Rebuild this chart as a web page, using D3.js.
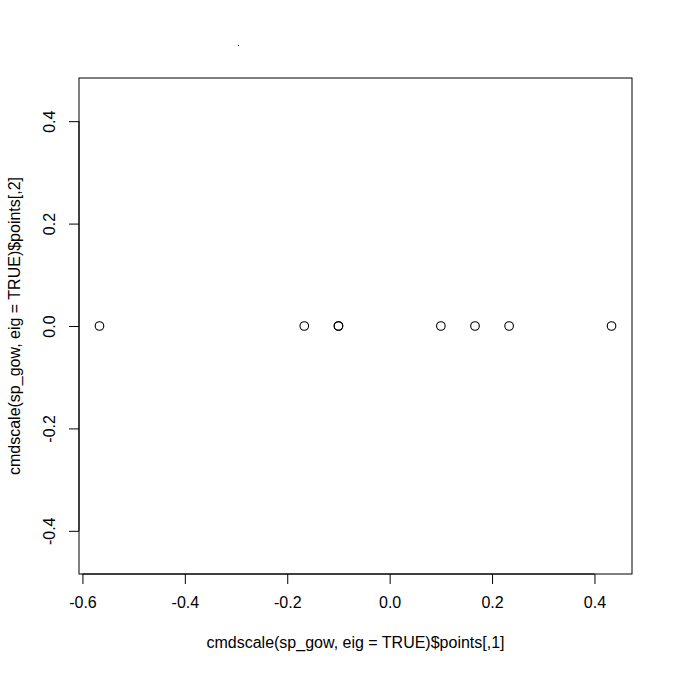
<!DOCTYPE html>
<html>
<head>
<meta charset="utf-8">
<script src="https://cdn.jsdelivr.net/npm/d3@7"></script>
<style>
  body { margin: 0; background: #fff; }
  text { font-family: "Liberation Sans", Arial, sans-serif; fill: #000; }
</style>
</head>
<body>
<svg id="chart" width="673" height="673"></svg>
<script>
// cmdscale(sp_gow, eig = TRUE)$points
var dim1 = [-0.5667, -0.1667, -0.1, -0.1, 0.1, 0.1667, 0.2333, 0.4333];
var dim2 = [0, 0, 0, 0, 0, 0, 0, 0];
var xTicks = [-0.6, -0.4, -0.2, 0.0, 0.2, 0.4];
var yTicks = [-0.4, -0.2, 0.0, 0.2, 0.4];
var xTitle = "cmdscale(sp_gow, eig = TRUE)$points[,1]";
var yTitle = "cmdscale(sp_gow, eig = TRUE)$points[,2]";

var svg = d3.select("#chart");
var pLeft = 79, pRight = 632, pTop = 78, pBottom = 574;

// R style: 4% range extension, asp = 1
var lo = d3.min(dim1), hi = d3.max(dim1);
var pad = (hi - lo) * 0.04;
var x = d3.scaleLinear().domain([lo - pad, hi + pad]).range([pLeft, pRight]);
var pxPerUnit = (pRight - pLeft) / (hi - lo + 2 * pad);
var halfY = (pBottom - pTop) / 2 / pxPerUnit;
var y = d3.scaleLinear().domain([-halfY, halfY]).range([pBottom, pTop]);

var fmt = function (d) { return d3.format(".1f")(d).replace("−", "-"); };

var gx = svg.append("g")
    .attr("transform", "translate(0," + pBottom + ")")
    .call(d3.axisBottom(x).tickValues(xTicks).tickFormat(fmt).tickSize(10).tickPadding(13));
gx.select(".domain").attr("d", "M" + x(xTicks[0]) + ",0H" + x(xTicks[xTicks.length - 1]));

var gy = svg.append("g")
    .attr("transform", "translate(" + pLeft + ",0)")
    .call(d3.axisLeft(y).tickValues(yTicks).tickFormat(fmt).tickSize(10).tickPadding(0));
gy.select(".domain").attr("d", "M0," + y(yTicks[0]) + "V" + y(yTicks[yTicks.length - 1]));
gy.selectAll(".tick text")
    .attr("text-anchor", "middle")
    .attr("transform", "translate(-30,0) rotate(-90)")
    .attr("x", 0).attr("dy", "0.35em");

svg.selectAll(".tick text").style("font-size", "16px").style("font-family", "Liberation Sans, Arial, sans-serif").attr("fill", "#000");
svg.selectAll(".domain, .tick line").attr("stroke", "#000");

svg.append("rect")
    .attr("x", pLeft).attr("y", pTop)
    .attr("width", pRight - pLeft).attr("height", pBottom - pTop)
    .attr("fill", "none").attr("stroke", "#000");

svg.append("g").selectAll("circle")
    .data(dim1)
    .join("circle")
    .attr("cx", function (d) { return x(d); })
    .attr("cy", function (d, i) { return y(dim2[i]); })
    .attr("r", 4.3)
    .attr("fill", "none")
    .attr("stroke", "#000")
    .attr("stroke-width", 1.1);

svg.append("text")
    .attr("x", (pLeft + pRight) / 2).attr("y", 648)
    .attr("text-anchor", "middle")
    .style("font-size", "16px")
    .text(xTitle);

svg.append("text")
    .attr("transform", "translate(20," + (pTop + pBottom) / 2 + ") rotate(-90)")
    .attr("text-anchor", "middle")
    .style("font-size", "16px")
    .text(yTitle);

// stray speck above the plot
svg.append("rect").attr("x", 238).attr("y", 45).attr("width", 1).attr("height", 1).attr("fill", "#000");
</script>
</body>
</html>
